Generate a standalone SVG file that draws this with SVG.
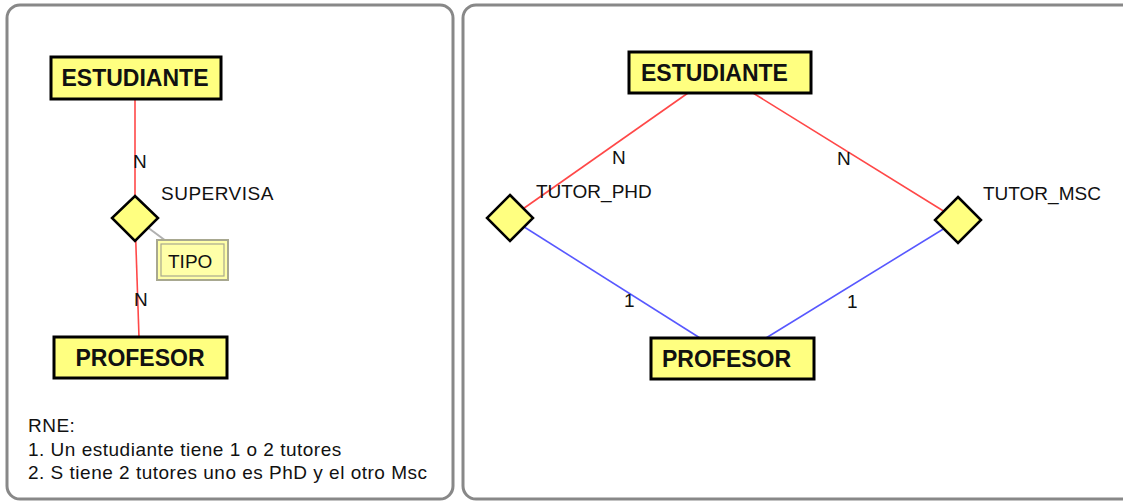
<svg xmlns="http://www.w3.org/2000/svg" width="1123" height="502" viewBox="0 0 1123 502">
<style>
.frame{fill:#fff;stroke:#888;stroke-width:3}
.ent{fill:#ffff80;stroke:#000;stroke-width:3}
.rel{fill:#ffff80;stroke:#000;stroke-width:2.5}
.et{font-family:"Liberation Sans",Arial,sans-serif;font-weight:bold;font-size:23px;fill:#111}
.t{font-family:"Liberation Sans",Arial,sans-serif;font-size:19px;fill:#111}
.ls{letter-spacing:0.5px}
.red{stroke:#ff4848;stroke-width:1.6;fill:none}
.blue{stroke:#5858ff;stroke-width:1.6;fill:none}
.gray{stroke:#b0b0b0;stroke-width:2;fill:none}
</style>
<rect width="1123" height="502" fill="#fff"/>
<rect class="frame" x="7" y="5" width="446" height="494" rx="13"/>
<rect class="frame" x="463" y="5" width="690" height="494" rx="13"/>
<g id="connectors">
<line class="red" x1="135" y1="99" x2="135" y2="218"/>
<line class="red" x1="135" y1="218" x2="139" y2="337"/>
<line class="gray" x1="135" y1="218" x2="166" y2="241"/>
<line class="red" x1="688" y1="93" x2="510" y2="218"/>
<line class="red" x1="753" y1="93" x2="958" y2="220"/>
<line class="blue" x1="510" y1="218" x2="700" y2="338"/>
<line class="blue" x1="958" y1="220" x2="766" y2="338"/>
</g>
<g id="left-estudiante">
<rect class="ent" x="51" y="57" width="170" height="42"/>
<text class="et" x="135" y="86" text-anchor="middle">ESTUDIANTE</text>
</g>
<g id="supervisa">
<polygon class="rel" points="135,196 158,218 135,241 112,218"/>
<text class="t ls" x="161" y="200">SUPERVISA</text>
</g>
<g id="tipo">
<rect x="157" y="240" width="71" height="40" fill="#ffffa8" stroke="#a8a890" stroke-width="2"/>
<rect x="161" y="244" width="63" height="32" fill="none" stroke="#a8a890" stroke-width="1.2"/>
<text class="t" x="168" y="268">TIPO</text>
</g>
<g id="left-profesor">
<rect class="ent" x="54" y="337" width="173" height="41"/>
<text class="et" x="140" y="366" text-anchor="middle">PROFESOR</text>
</g>
<g id="card-labels-left">
<text class="t" x="133" y="168">N</text>
<text class="t" x="134" y="306">N</text>
</g>
<g id="rne">
<text class="t ls" x="28" y="432">RNE:</text>
<text class="t ls" x="28" y="456">1. Un estudiante tiene 1 o 2 tutores</text>
<text class="t ls" x="28" y="479">2. S tiene 2 tutores uno es PhD y el otro Msc</text>
</g>
<g id="right-estudiante">
<rect class="ent" x="629" y="52" width="182" height="41"/>
<text class="et" x="641" y="81">ESTUDIANTE</text>
</g>
<g id="tutor-phd">
<polygon class="rel" points="510,195 533,218 510,241 487,218"/>
<text class="t" x="536" y="198">TUTOR_PHD</text>
</g>
<g id="tutor-msc">
<polygon class="rel" points="958,197 981,220 958,243 935,220"/>
<text class="t" x="983" y="200">TUTOR_MSC</text>
</g>
<g id="right-profesor">
<rect class="ent" x="651" y="338" width="163" height="41"/>
<text class="et" x="662" y="367">PROFESOR</text>
</g>
<g id="card-labels-right">
<text class="t" x="612" y="164">N</text>
<text class="t" x="837" y="165">N</text>
<text class="t" x="624" y="307">1</text>
<text class="t" x="847" y="308">1</text>
</g>
</svg>
